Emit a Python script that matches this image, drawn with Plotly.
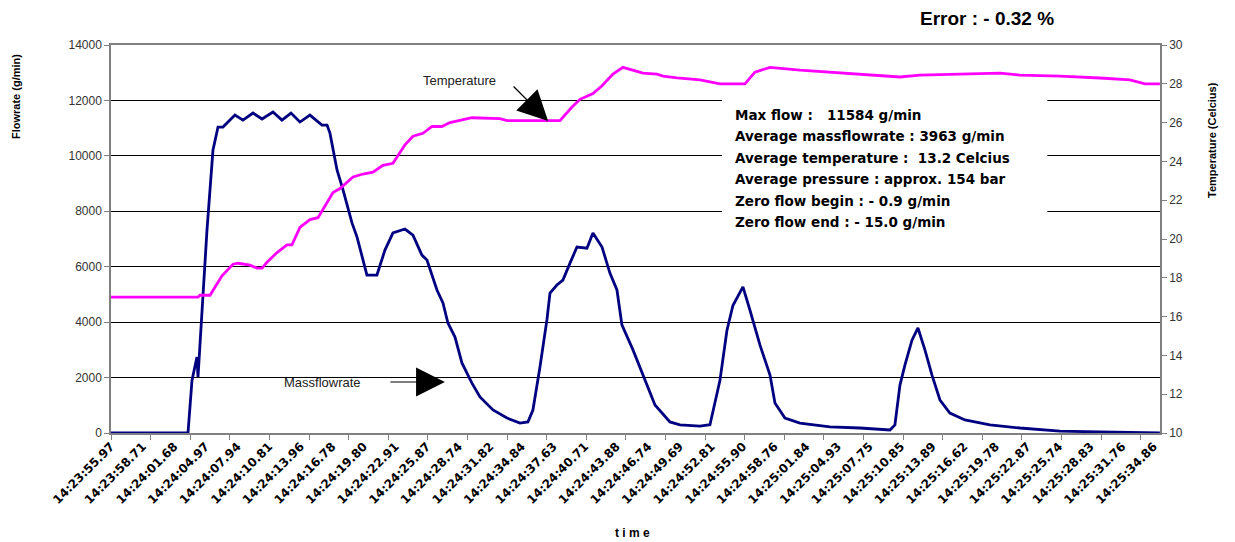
import plotly.graph_objects as go

# ---------------- data ----------------
flow_time_s = [0.0, 7.31, 7.69, 8.16, 8.26, 9.11, 9.68, 10.16, 10.63, 11.77, 12.53, 13.48,
               14.34, 15.38, 16.23, 17.09, 17.94, 18.89, 20.03, 20.51, 20.79, 21.46, 22.03,
               22.88, 23.36, 24.30, 25.25, 26.01, 26.77, 27.91, 28.67, 29.52, 30.00, 30.95,
               31.52, 31.99, 32.66, 33.32, 34.27, 35.03, 36.27, 37.60, 38.83, 39.59, 40.06,
               40.73, 41.39, 41.68, 42.34, 42.91, 43.58, 44.24, 45.19, 45.76, 46.62, 47.37,
               48.04, 48.51, 49.56, 50.51, 51.65, 53.07, 54.02, 55.92, 56.87, 57.82, 58.48,
               59.05, 60.00, 60.67, 61.62, 62.57, 63.04, 63.99, 65.41, 68.26, 71.11, 73.96,
               74.43, 74.91, 75.38, 76.05, 76.62, 77.28, 77.95, 78.71, 79.65, 81.08, 83.45,
               86.30, 90.10, 93.90, 99.59]
flow_g_min = [0, 0, 1900, 2740, 2020, 7300, 10200, 11040, 11040, 11470, 11290, 11545,
              11330, 11584, 11290, 11545, 11220, 11470, 11110, 11110, 10820, 9490, 8770,
              7580, 7070, 5700, 5700, 6600, 7220, 7360, 7140, 6420, 6240, 5160,
              4690, 3970, 3460, 2530, 1800, 1300, 830, 540, 360, 400, 830,
              2380, 4080, 5050, 5340, 5520, 6130, 6710, 6670, 7220, 6710, 5770,
              5160, 3900, 3000, 2090, 1010, 400, 290, 250, 300, 1900, 3700,
              4600, 5270, 4430, 3170, 2090, 1080, 540, 360, 220, 180, 110,
              290, 1730, 2450, 3350, 3790, 3000, 2090, 1190, 720, 470, 290,
              180, 70, 36, 0]

temp_time_s = [0.0, 8.26, 8.45, 9.40, 10.54, 11.58, 12.06, 13.20, 13.86, 14.34, 14.81,
               15.76, 16.71, 17.18, 17.94, 18.89, 19.65, 20.51, 21.08, 21.74, 22.98,
               23.92, 24.87, 25.82, 26.77, 27.25, 27.91, 28.67, 29.62, 30.48, 31.42,
               32.18, 32.94, 34.27, 36.93, 37.60, 42.63, 43.77, 44.53, 45.76, 46.62,
               47.66, 48.61, 49.56, 50.51, 51.84, 52.41, 53.74, 55.92, 57.82, 60.19,
               61.14, 62.57, 65.41, 68.26, 71.11, 73.01, 74.91, 76.81, 80.60, 84.40,
               86.30, 90.10, 93.90, 96.74, 98.17, 99.59]
temp_c = [17.0, 17.0, 17.1, 17.1, 18.1, 18.7, 18.75, 18.65, 18.5, 18.5, 18.8,
          19.3, 19.7, 19.7, 20.6, 21.0, 21.1, 21.85, 22.4, 22.6, 23.2,
          23.35, 23.45, 23.8, 23.9, 24.3, 24.85, 25.3, 25.45, 25.8, 25.8,
          26.0, 26.1, 26.25, 26.2, 26.1, 26.1, 26.8, 27.2, 27.5, 27.9,
          28.5, 28.85, 28.7, 28.55, 28.5, 28.4, 28.3, 28.2, 28.0, 28.0,
          28.6, 28.85, 28.7, 28.6, 28.5, 28.4, 28.35, 28.45, 28.5, 28.55,
          28.45, 28.4, 28.3, 28.2, 28.0, 28.0]

time_labels = ["14:23:55.97", "14:23:58.71", "14:24:01.68", "14:24:04.97", "14:24:07.94",
               "14:24:10.81", "14:24:13.96", "14:24:16.78", "14:24:19.80", "14:24:22.91",
               "14:24:25.87", "14:24:28.74", "14:24:31.82", "14:24:34.84", "14:24:37.63",
               "14:24:40.71", "14:24:43.88", "14:24:46.74", "14:24:49.69", "14:24:52.81",
               "14:24:55.90", "14:24:58.76", "14:25:01.84", "14:25:04.93", "14:25:07.75",
               "14:25:10.85", "14:25:13.89", "14:25:16.62", "14:25:19.78", "14:25:22.87",
               "14:25:25.74", "14:25:28.83", "14:25:31.76", "14:25:34.86"]
label_step_s = 3.0

stats_lines = ["Max flow :   11584 g/min",
               "Average massflowrate : 3963 g/min",
               "Average temperature :  13.2 Celcius",
               "Average pressure : approx. 154 bar",
               "Zero flow begin : - 0.9 g/min",
               "Zero flow end : - 15.0 g/min"]

error_text = "Error : - 0.32 %"

# ---------------- figure ----------------
FONT = "Liberation Sans, Arial, sans-serif"
WIDE = "DejaVu Sans, Verdana, sans-serif"
x_max = 99.6
W, H = 1235, 542
ML, MR, MT, MB = 111, 75, 45, 109

fig = go.Figure()
fig.add_trace(go.Scatter(x=flow_time_s, y=flow_g_min, mode="lines", name="Massflowrate",
                         line=dict(color="#000080", width=2.8), yaxis="y"))
fig.add_trace(go.Scatter(x=temp_time_s, y=temp_c, mode="lines", name="Temperature",
                         line=dict(color="#FF00FF", width=2.8), yaxis="y2"))

tickvals = [i * label_step_s for i in range(len(time_labels))]
minor_vals = [i * 3.76 for i in range(27) if i * 3.76 <= x_max]

fig.update_layout(
    width=W, height=H,
    margin=dict(l=ML, r=MR, t=MT, b=MB),
    paper_bgcolor="white", plot_bgcolor="white",
    showlegend=False,
    font=dict(family=FONT, color="#111"),
    xaxis=dict(range=[0, x_max], tickmode="array", tickvals=tickvals, ticktext=time_labels,
               tickangle=-45, ticks="", showgrid=False, zeroline=False, automargin=False,
               showline=True, linecolor="#808080", linewidth=1.5, mirror=True,
               tickfont=dict(size=12, family=WIDE, color="black", weight="bold"),
               minor=dict(tickmode="array", tickvals=minor_vals, ticks="outside",
                          ticklen=5, tickcolor="#808080", showgrid=False)),
    yaxis=dict(range=[0, 14000], tickmode="linear", tick0=0, dtick=2000, tickformat="d",
               showgrid=True, gridcolor="#000000", gridwidth=1, zeroline=False,
               automargin=False,
               showline=True, linecolor="#808080", linewidth=1.5,
               ticks="outside", ticklen=5, tickcolor="#808080",
               tickfont=dict(size=12, color="#333")),
    yaxis2=dict(range=[10, 30], tickmode="linear", tick0=10, dtick=2, overlaying="y",
                side="right", showgrid=False, zeroline=False, automargin=False,
                showline=True, linecolor="#808080", linewidth=1.5,
                ticks="outside", ticklen=5, tickcolor="#808080",
                tickfont=dict(size=12, color="#333")),
)

# white box behind the statistics
fig.add_shape(type="rect", xref="x", yref="y", x0=58.0, x1=88.9, y0=7144, y1=12195,
              fillcolor="white", line=dict(width=0), layer="between")

for i, line in enumerate(stats_lines):
    fig.add_annotation(x=59.05, y=11474 - i * 775, xref="x", yref="y", text=line,
                       showarrow=False, xanchor="left", yanchor="middle", align="left",
                       font=dict(size=13.5, color="black", weight="bold", family=WIDE))

# Temperature label + arrow
fig.add_annotation(x=33.1, y=12737, xref="x", yref="y", text="Temperature", showarrow=False,
                   font=dict(size=13, color="#222", family=FONT))
fig.add_annotation(x=41.5, y=11257, xref="x", yref="y", text="", showarrow=True,
                   ax=-36, ay=-36, arrowhead=2, arrowsize=5, arrowwidth=1.2,
                   arrowcolor="black")

# Massflowrate label + arrow
fig.add_annotation(x=20.1, y=1840, xref="x", yref="y", text="Massflowrate", showarrow=False,
                   font=dict(size=13, color="#222", family=FONT))
fig.add_annotation(x=31.7, y=1840, xref="x", yref="y", text="", showarrow=True,
                   ax=-56, ay=0, arrowhead=2, arrowsize=4.8, arrowwidth=1.2,
                   arrowcolor="black")


def px_annot(px, py, text, size, angle=0):
    fig.add_annotation(x=(px - ML) / (W - ML - MR), y=(H - py - MB) / (H - MT - MB),
                       xref="paper", yref="paper", xanchor="center", yanchor="middle",
                       text=text, showarrow=False, textangle=angle,
                       font=dict(size=size, weight="bold", color="black"))


px_annot(16, 97, "Flowrate (g/min)", 11, -90)
px_annot(1212, 140, "Temperature (Celcius)", 11, -90)
px_annot(632, 533, "t i m e", 12)
px_annot(987, 18, error_text, 19)

fig.write_html("out.html", config={"displayModeBar": False},
               post_script="document.body.style.margin='0px';")
